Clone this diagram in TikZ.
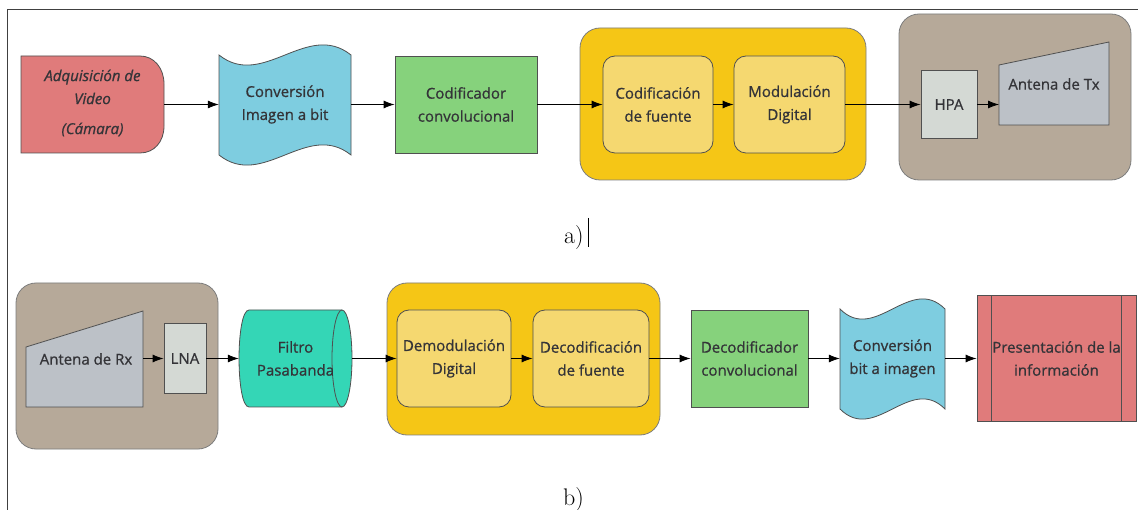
\documentclass[tikz,border=0pt]{standalone}
\usepackage{fontspec}
\newfontfamily\osans[FakeBold=0.9]{Open Sans}
\usetikzlibrary{arrows.meta}
\definecolor{redc}{RGB}{224,123,123}
\definecolor{bluec}{RGB}{126,205,224}
\definecolor{greenc}{RGB}{134,210,124}
\definecolor{yelc}{RGB}{245,198,22}
\definecolor{yelin}{RGB}{245,216,112}
\definecolor{brownc}{RGB}{182,169,153}
\definecolor{amplc}{RGB}{212,217,212}
\definecolor{antc}{RGB}{188,193,199}
\definecolor{tealc}{RGB}{52,214,182}
\definecolor{txtc}{RGB}{52,52,56}
\definecolor{edgec}{RGB}{80,80,80}
\definecolor{grpedge}{RGB}{125,125,125}
\begin{document}
\begin{tikzpicture}[x=1pt,y=-1pt,
  lbl/.style={font=\osans\fontsize{15}{23}\selectfont, text=txtc, align=center, inner sep=0pt},
  blk/.style={lbl, draw=edgec, line width=0.8pt},
  grp/.style={draw=grpedge, line width=0.8pt, rounded corners=20pt},
  arr/.style={-{Latex[length=11pt,width=8pt]}, line width=0.8pt, black},
  shp/.style={draw=edgec, line width=0.8pt},
  capt/.style={font=\fontsize{24}{28}\selectfont, anchor=base west, inner sep=0pt}
  ]
\useasboundingbox (0,0) rectangle (1138,510);
\fill[white] (0,0) rectangle (1138,510);
\draw[line width=1pt, black!75] (7,510) -- (7,10) -- (1138,10);

% ---------- row a ----------
\draw[grp, fill=yelc] (580,28) rectangle (866,180);
\draw[grp, fill=brownc] (899,14) rectangle (1131,180);

\draw[shp, fill=redc] (21,56) -- (140,56) .. controls (154,56) and (164,68) .. (164,84) -- (164,126) .. controls (164,142) and (154,153) .. (140,153) -- (21,153) -- cycle;
\node[lbl, font=\osans\itshape\fontsize{15}{23}\selectfont, minimum width=143pt, minimum height=97pt] (adq) at (92.5,103) {Adquisición de\\Video\\[7pt](Cámara)};

\draw[shp, fill=bluec] (219,55) .. controls (263,90) and (307,20) .. (351,55) -- (351,155) .. controls (307,120) and (263,190) .. (219,155) -- cycle;
\node[lbl, minimum width=132pt, minimum height=97pt] (conv1) at (285,104.5) {Conversión\\Imagen a bit};

\node[blk, fill=greenc, minimum width=142pt, minimum height=97pt] (cod1) at (466,104.5) {Codificador\\convolucional};

\node[blk, fill=yelin, rounded corners=12pt, minimum width=110pt, minimum height=97pt] (codf) at (658,104.5) {Codificación\\de fuente};
\node[blk, fill=yelin, rounded corners=12pt, minimum width=111pt, minimum height=97pt] (mod) at (789.5,104.5) {Modulación\\Digital};

\node[blk, fill=amplc, minimum width=56pt, minimum height=68pt] (hpa) at (949,104.5) {HPA};
\draw[shp, fill=antc] (999,125) -- (999,65) -- (1109,42) -- (1109,125) -- cycle;
\coordinate (antTxIn) at (999,104.5);
\node[lbl] (antTx) at (1054,84) {Antena de Tx};

\draw[arr] (adq.east |- conv1.west) -- (conv1.west);
\draw[arr] (conv1.east) -- (cod1.west);
\draw[arr] (cod1.east) -- (codf.west);
\draw[arr] (codf.east) -- (mod.west);
\draw[arr] (mod.east) -- (hpa.west);
\draw[arr] (hpa.east) -- (antTxIn);

\node[capt] (la) at (564,244) {a)};
\draw[line width=1pt] (588,218) -- (588,247);

% ---------- row b ----------
\draw[grp, fill=brownc] (16,283) rectangle (218,449);
\draw[grp, fill=yelc] (387,283) rectangle (660,435);

\draw[shp, fill=antc] (26,407) -- (26,347) -- (143,311) -- (143,407) -- cycle;
\node[lbl] (antRx) at (86,359) {Antena de Rx};
\coordinate (antRxOut) at (143,358.5);
\node[blk, fill=amplc, minimum width=42pt, minimum height=70pt] (lna) at (185,358.5) {LNA};

\draw[shp, fill=tealc] (342,310) -- (249,310) .. controls (235.7,310) and (235.7,407) .. (249,407) -- (342,407);
\draw[shp, fill=tealc] (342,358.5) ellipse [x radius=10pt, y radius=48.5pt];
\node[lbl, minimum width=113pt, minimum height=97pt] (filt) at (295.5,358.5) {Filtro\\Pasabanda};

\node[blk, fill=yelin, rounded corners=12pt, minimum width=114pt, minimum height=97pt] (demod) at (454,358.5) {Demodulación\\Digital};
\node[blk, fill=yelin, rounded corners=12pt, minimum width=116pt, minimum height=97pt] (decf) at (591,358.5) {Decodificación\\de fuente};

\node[blk, fill=greenc, minimum width=117pt, minimum height=97pt] (dcod) at (749.5,358.5) {Decodificador\\convolucional};

\draw[shp, fill=bluec] (840,309) .. controls (875,344) and (910,274) .. (945,309) -- (945,409) .. controls (910,374) and (875,444) .. (840,409) -- cycle;
\node[lbl, minimum width=105pt, minimum height=97pt] (conv2) at (892.5,358.5) {Conversión\\bit a imagen};

\node[blk, fill=redc, minimum width=159pt, minimum height=126pt] (pres) at (1056.5,358.5) {Presentación de la\\información};
\draw[shp] ([xshift=15pt]pres.north west) -- ([xshift=15pt]pres.south west);
\draw[shp] ([xshift=-15pt]pres.north east) -- ([xshift=-15pt]pres.south east);

\draw[arr] (antRxOut) -- (lna.west);
\draw[arr] (lna.east) -- (filt.west);
\draw[arr] (filt.east) -- (demod.west);
\draw[arr] (demod.east) -- (decf.west);
\draw[arr] (decf.east) -- (dcod.west);
\draw[arr] (dcod.east) -- (conv2.west);
\draw[arr] (conv2.east) -- (pres.west);

\node[capt] (lb) at (563,505) {b)};
\end{tikzpicture}
\end{document}
